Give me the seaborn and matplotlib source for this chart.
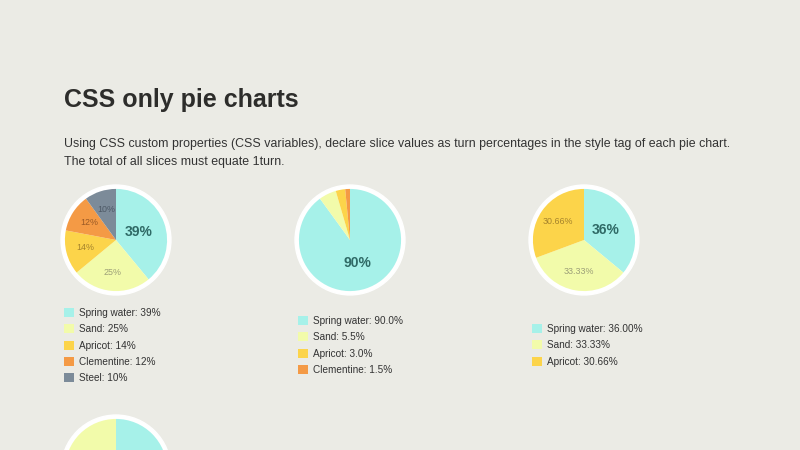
import numpy as np
import seaborn as sns
import matplotlib.pyplot as plt
from matplotlib.patches import Patch, Circle

# Data for the four pies (values in percent)
pie1_names = ["Spring water", "Sand", "Apricot", "Clementine", "Steel"]
pie1_values = [39, 25, 14, 12, 10]
pie1_labels = ["39%", "25%", "14%", "12%", "10%"]
pie1_legend = ["39%", "25%", "14%", "12%", "10%"]

pie2_names = ["Spring water", "Sand", "Apricot", "Clementine"]
pie2_values = [90.0, 5.5, 3.0, 1.5]
pie2_labels = ["90%", "", "", ""]
pie2_legend = ["90.0%", "5.5%", "3.0%", "1.5%"]

pie3_names = ["Spring water", "Sand", "Apricot"]
pie3_values = [36.00, 33.33, 30.66]
pie3_labels = ["36%", "33.33%", "30.66%"]
pie3_legend = ["36.00%", "33.33%", "30.66%"]

pie4_names = ["Spring water", "Sand"]
pie4_values = [50, 50]

colors = {
    "Spring water": "#a6f1e9",
    "Sand": "#f2fbaa",
    "Apricot": "#fcd44a",
    "Clementine": "#f49a45",
    "Steel": "#7c8b99",
}
text_colors = {
    "Spring water": "#2f6a66",
    "Sand": "#9c9f78",
    "Apricot": "#a5832c",
    "Clementine": "#9a5a26",
    "Steel": "#4d5966",
}

sns.set_style("white")
plt.rcParams["font.family"] = ["Liberation Sans", "DejaVu Sans"]

bg = "#ebebe5"
W, H = 800, 450
fig = plt.figure(figsize=(8, 4.5), dpi=100, facecolor=bg)

fig.text(64 / W, 1 - 100 / H, "CSS only pie charts", fontsize=18, fontweight="bold",
         color="#2d2d2b", va="center", ha="left")
fig.text(64 / W, 1 - 144 / H,
         "Using CSS custom properties (CSS variables), declare slice values as turn percentages in the style tag of each pie chart.",
         fontsize=8.95, color="#333333", va="center", ha="left")
fig.text(64 / W, 1 - 162 / H, "The total of all slices must equate 1turn.",
         fontsize=8.95, color="#333333", va="center", ha="left")


def draw_pie(cx, cy, names, values, labels=None, legend=None, legend_y=None):
    half = 56
    ax = fig.add_axes([(cx - half) / W, (H - cy - half) / H, 2 * half / W, 2 * half / H])
    ax.add_patch(Circle((0, 0), 1.06, color="white", zorder=0))
    wedges, _ = ax.pie(values, colors=[colors[n] for n in names], startangle=90,
                       counterclock=False, radius=0.985, wedgeprops=dict(linewidth=0))
    ax.set_xlim(-1.08, 1.08)
    ax.set_ylim(-1.08, 1.08)
    ax.set_aspect("equal")
    ax.axis("off")
    if labels:
        for i, (w, lab) in enumerate(zip(wedges, labels)):
            if not lab:
                continue
            ang = np.deg2rad((w.theta1 + w.theta2) / 2)
            big = i == 0
            r = 0.47 if big else 0.62
            ax.text(r * np.cos(ang), r * np.sin(ang), lab, ha="center", va="center",
                    fontsize=10 if big else 6.4, fontweight="bold" if big else "normal",
                    color=text_colors[names[i]])
    if legend:
        handles = [Patch(facecolor=colors[n], edgecolor="none") for n in names]
        texts = [f"{n}: {v}" for n, v in zip(names, legend)]
        ax.legend(handles, texts, loc="upper left",
                  bbox_to_anchor=((cx - 52) / W, 1 - legend_y / H),
                  bbox_transform=fig.transFigure, frameon=False, fontsize=7.2,
                  handlelength=1.0, handleheight=1.0, handletextpad=0.5,
                  labelspacing=0.63, borderpad=0, borderaxespad=0, labelcolor="#333333")


draw_pie(116, 240, pie1_names, pie1_values, pie1_labels, pie1_legend, 308)
draw_pie(350, 240, pie2_names, pie2_values, pie2_labels, pie2_legend, 316)
draw_pie(584, 240, pie3_names, pie3_values, pie3_labels, pie3_legend, 324)
draw_pie(116, 470, pie4_names, pie4_values)

fig.savefig("out.png", dpi=100, facecolor=bg)
